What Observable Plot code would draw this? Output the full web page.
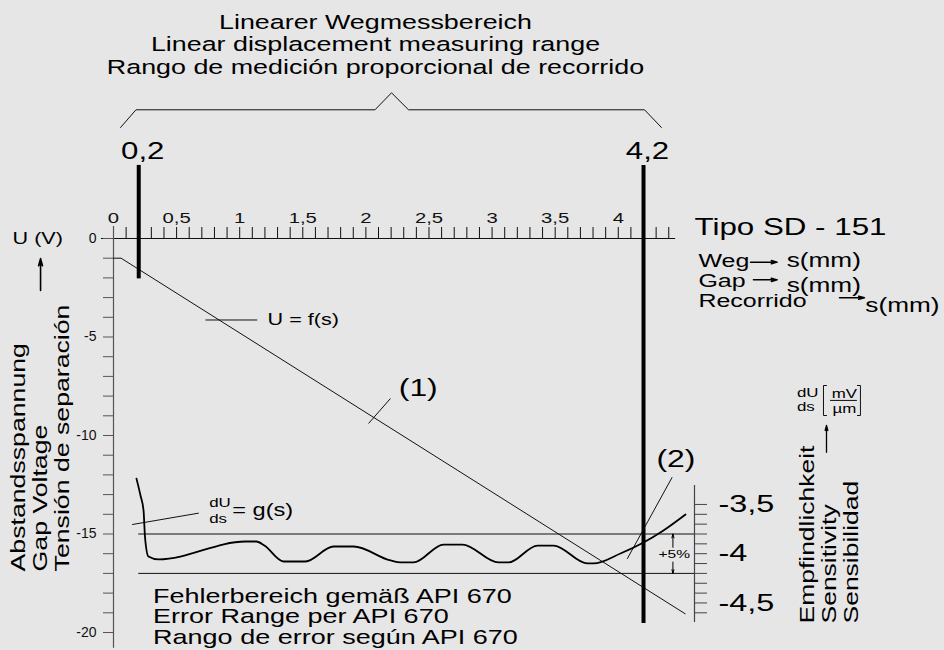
<!DOCTYPE html>
<html><head><meta charset="utf-8">
<script src="https://cdn.jsdelivr.net/npm/d3@7"></script>
<script src="https://cdn.jsdelivr.net/npm/@observablehq/plot@0.6"></script>
<style>
html,body{margin:0;padding:0;background:#e6e6e6;}
#chart{position:relative;width:944px;height:650px;overflow:hidden;}
#chart svg{position:absolute;left:0;top:0;}
</style></head><body><div id="chart"></div>
<script>
// ---------------- data ----------------
// Gap voltage U = f(s)
const travelMm = [0, 0.06, 4.53];
const gapVolts = [-1.0, -1.0, -19.05];
// Sensitivity dU/ds = g(s)  [mV/µm]
const sensS = [0.182, 0.214, 0.238, 0.250, 0.277, 0.357, 1.046, 1.133, 1.196, 1.347, 1.521, 1.743, 1.902, 2.195, 2.274, 2.377, 2.615, 2.765, 3.051, 3.130, 3.360, 3.487, 3.756, 3.803, 4.017, 4.200, 4.358, 4.533];
const sensG = [-3.237, -3.409, -3.561, -3.836, -4.028, -4.058, -3.876, -3.876, -3.917, -4.079, -4.079, -3.927, -3.927, -4.069, -4.089, -4.089, -3.907, -3.907, -4.089, -4.089, -3.917, -3.917, -4.099, -4.099, -3.998, -3.886, -3.764, -3.602];
// linear measuring range and API 670 error band
const linearRange = [0.2, 4.2];
const errorBand = [-3.8, -4.2];
// ticks
const xTicks = d3.range(0, 45).map(i => i / 10);
const yTicks = d3.range(0, -21, -1);
const sensTicks = d3.range(35, 47).map(i => -i / 10);
// texts
const titleLines = ["Linearer Wegmessbereich", "Linear displacement measuring range", "Rango de medición proporcional de recorrido"];
const yLabelLines = ["Abstandsspannung", "Gap Voltage", "Tensión de separación"];
const sensLabelLines = ["Empfindlichkeit", "Sensitivity", "Sensibilidad"];
const errorLines = ["Fehlerbereich gemäß API 670", "Error Range per API 670", "Rango de error según API 670"];
const legendWords = ["Weg", "Gap", "Recorrido"];

// ---------------- layout (annotation anchors in data units: s in mm, U in V, g in mV/µm) ----------------
const W = 944, H = 650, ML = 113, MR = 250, MT = 238, MB = 18;
const X_MAX = 4.604;
const FONT = "'Liberation Sans', Arial, Helvetica, sans-serif";
const comma = d => String(+(+d).toFixed(2)).replace(".", ",");

const bracket = [[0.056, 5.635], [0.178, 6.533], [2.072, 6.533], [2.203, 7.396], [2.338, 6.533], [4.208, 6.533], [4.342, 5.635]];
const rangeLineTop = 3.71, rangeLineBottom = [-2.05, -19.54];
const leaders = [
  {x1: 0.729, y1: -4.137, x2: 1.139, y2: -4.137},   // U = f(s)
  {x1: 2.021, y1: -9.39, x2: 2.195, y2: -8.12},     // (1)
  {x1: 4.427, y1: -12.12, x2: 4.071, y2: -16.26},   // (2)
  {x1: 0.148, y1: -14.52, x2: 0.676, y2: -13.94}    // dU/ds
];
const legendArrows = [
  {x1: 5.048, x2: 5.259, y: -1.20},
  {x1: 5.071, x2: 5.259, y: -2.10},
  {x1: 5.753, x2: 5.951, y: -3.01}
];
const legendWordY = [-1.17, -2.14, -3.20];
const legendUnit = [{x: 5.335, y: -1.15}, {x: 5.335, y: -2.40}, {x: 5.958, y: -3.40}];

// horizontally extended lettering of the original drawing
function stretch(svg) {
  for (const g of svg.querySelectorAll("g[aria-description]")) {
    const m = /^stretch ([\d.]+)/.exec(g.getAttribute("aria-description"));
    if (!m) continue;
    const k = +m[1];
    for (const t of g.querySelectorAll("text")) {
      let tr = t.getAttribute("transform");
      if (!tr) {
        const x = +t.getAttribute("x") || 0, y = +t.getAttribute("y") || 0;
        t.removeAttribute("x"); t.removeAttribute("y");
        tr = `translate(${x},${y})`;
      }
      t.setAttribute("transform", tr + ` scale(${k},1)`);
    }
  }
}
const S = k => ({ariaDescription: `stretch ${k}`});

const base = {
  width: W, height: H, marginLeft: ML, marginRight: MR, marginTop: MT, marginBottom: MB,
  style: {background: "transparent", fontFamily: FONT, overflow: "visible", color: "#111"}
};

// ---------------- main plot: U(V) over s(mm) ----------------
const fData = travelMm.map((s, i) => ({s, u: gapVolts[i]}));
const main = Plot.plot({
  ...base,
  x: {domain: [0, X_MAX]},
  y: {domain: [-20, 0]},
  marks: [
    Plot.axisX({anchor: "top", ticks: xTicks, tickSize: 12, tickPadding: 4, label: null, fontSize: 14.5,
      stroke: "#111", fill: "#111", ...S(1.4),
      tickFormat: d => Math.round(d * 10) % 5 === 0 ? comma(d) : ""}),
    Plot.ruleY([0], {x1: -0.095, x2: 4.455, stroke: "#111"}),
    Plot.axisY({anchor: "left", ticks: yTicks, tickSize: 10, tickPadding: 7, label: null, fontSize: 14,
      stroke: "#555", fill: "#111", tickFormat: d => d % 5 === 0 ? String(d) : ""}),
    Plot.ruleX([0], {y1: 0.61, y2: -20.8, stroke: "#555", strokeWidth: 1.2}),
    Plot.line(fData, {x: "s", y: "u", stroke: "#111", strokeWidth: 1}),
    Plot.ruleX(linearRange, {x: d => d, y1: rangeLineTop, y2: (d, i) => rangeLineBottom[i], stroke: "#000", strokeWidth: 4}),
    Plot.line(bracket, {x: d => d[0], y: d => d[1], stroke: "#111", strokeWidth: 1}),
    Plot.text(linearRange, {x: d => d, y: 4.42, text: d => comma(d), dx: 4, fontSize: 24, fill: "#000", ...S(1.3)}),
    Plot.text([titleLines.join("\n")], {x: 2.076, y: 9.86, text: d => d, fontSize: 19.9, lineHeight: 1.13, fill: "#000", ...S(1.35)}),
    Plot.link(leaders, {x1: "x1", y1: "y1", x2: "x2", y2: "y2", stroke: "#111", strokeWidth: 1}),
    Plot.text(["U = f(s)"], {x: 1.221, y: -4.137, text: d => d, textAnchor: "start", fontSize: 16, fill: "#000", ...S(1.35)}),
    Plot.text(["(1)"], {x: 2.415, y: -7.59, text: d => d, fontSize: 24.5, fill: "#000", ...S(1.3)}),
    Plot.text(["(2)"], {x: 4.457, y: -11.2, text: d => d, fontSize: 24.5, fill: "#000", ...S(1.3)}),
    Plot.text(["dU", "ds"], {x: 0.758, y: [-13.44, -14.23], text: d => d, textAnchor: "start", fontSize: 13, fill: "#000", ...S(1.3)}),
    Plot.text(["= g(s)"], {x: 0.9406, y: -13.81, text: d => d, textAnchor: "start", fontSize: 17.5, fill: "#000", ...S(1.35)}),
    Plot.text([errorLines.join("\n")], {x: 0.3138, y: -19.2, text: d => d, textAnchor: "start", fontSize: 20, lineHeight: 1.04, fill: "#000", ...S(1.35)}),
    Plot.text(["U (V)"], {x: -0.80, y: 0, text: d => d, textAnchor: "start", fontSize: 16, fill: "#000", ...S(1.35)}),
    Plot.arrow([0], {x1: -0.578, x2: -0.578, y1: -2.64, y2: -1.02, stroke: "#000", strokeWidth: 1.6, headLength: 7, headAngle: 30}),
    Plot.text([yLabelLines.join("\n")], {x: -0.582, y: -16.9, text: d => d, rotate: -90, textAnchor: "start", fontSize: 21, lineHeight: 1.03, fill: "#000", ...S(1.27)}),
    Plot.text(["Tipo SD - 151"], {x: 4.604, y: 0.574, text: d => d, textAnchor: "start", fontSize: 23.2, fill: "#000", ...S(1.35)}),
    Plot.text(legendWords, {x: 4.635, y: (d, i) => legendWordY[i], text: d => d, textAnchor: "start", fontSize: 18.5, fill: "#000", ...S(1.35)}),
    Plot.arrow(legendArrows, {x1: "x1", x2: "x2", y1: "y", y2: "y", stroke: "#000", strokeWidth: 1.5, headLength: 6, headAngle: 30}),
    Plot.text(legendUnit, {x: "x", y: "y", text: () => "s(mm)", textAnchor: "start", fontSize: 19.4, fill: "#000", ...S(1.35)}),
    Plot.text([sensLabelLines.join("\n")], {x: 5.668, y: -19.54, text: d => d, rotate: -90, textAnchor: "start", fontSize: 21, lineHeight: 1.05, fill: "#000", ...S(1.26)}),
    Plot.text(["dU", "ds"], {x: 5.416, y: [-7.85, -8.56], text: d => d, textAnchor: "start", fontSize: 13, fill: "#000", ...S(1.3)}),
    Plot.text(["mV", "µm"], {x: 5.792, y: [-7.87, -8.63], text: d => d, fontSize: 13, fill: "#000", ...S(1.3)}),
    Plot.ruleY([-8.22], {x1: 5.682, x2: 5.895, stroke: "#111"}),
    Plot.line([[5.650, -7.462], [5.626, -7.462], [5.626, -8.985], [5.650, -8.985]], {x: d => d[0], y: d => d[1], stroke: "#111", strokeWidth: 1}),
    Plot.line([[5.895, -7.462], [5.919, -7.462], [5.919, -8.985], [5.895, -8.985]], {x: d => d[0], y: d => d[1], stroke: "#111", strokeWidth: 1}),
    Plot.arrow([0], {x1: 5.650, x2: 5.650, y1: -10.85, y2: -9.49, stroke: "#000", strokeWidth: 1.3, headLength: 6, headAngle: 30})
  ]
});

// ---------------- overlay: sensitivity g(s) on its own scale ----------------
const gData = sensS.map((s, i) => ({s, g: sensG[i]}));
const sens = Plot.plot({
  ...base,
  x: {domain: [0, X_MAX], axis: null},
  y: {domain: [-4.8, -0.8]},
  marks: [
    Plot.ruleY(errorBand, {y: d => d, x1: 0.2, x2: X_MAX, stroke: "#111", strokeWidth: 1}),
    Plot.line(gData, {x: "s", y: "g", stroke: "#000", strokeWidth: 1.8, curve: "monotone-x"}),
    Plot.axisY({anchor: "right", ticks: sensTicks, tickSize: 12, tickPadding: 12, label: null, fontSize: 24,
      stroke: "#444", fill: "#000", ...S(1.35),
      tickFormat: d => Math.abs(d * 2 - Math.round(d * 2)) < 1e-9 ? comma(d) : ""}),
    Plot.ruleX([X_MAX], {y1: -3.308, y2: -4.699, stroke: "#444", strokeWidth: 1.2}),
    Plot.arrow([[-3.935, -3.8], [-4.085, -4.2]], {x1: 4.433, x2: 4.433, y1: d => d[0], y2: d => d[1], stroke: "#000", strokeWidth: 1, headLength: 6, headAngle: 30}),
    Plot.text(["+5%"], {x: 4.444, y: -4.01, text: d => d, fontSize: 11.5, fill: "#000", ...S(1.35)})
  ]
});

stretch(main);
stretch(sens);
const root = document.getElementById("chart");
root.appendChild(main);
root.appendChild(sens);
</script>
</body></html>
